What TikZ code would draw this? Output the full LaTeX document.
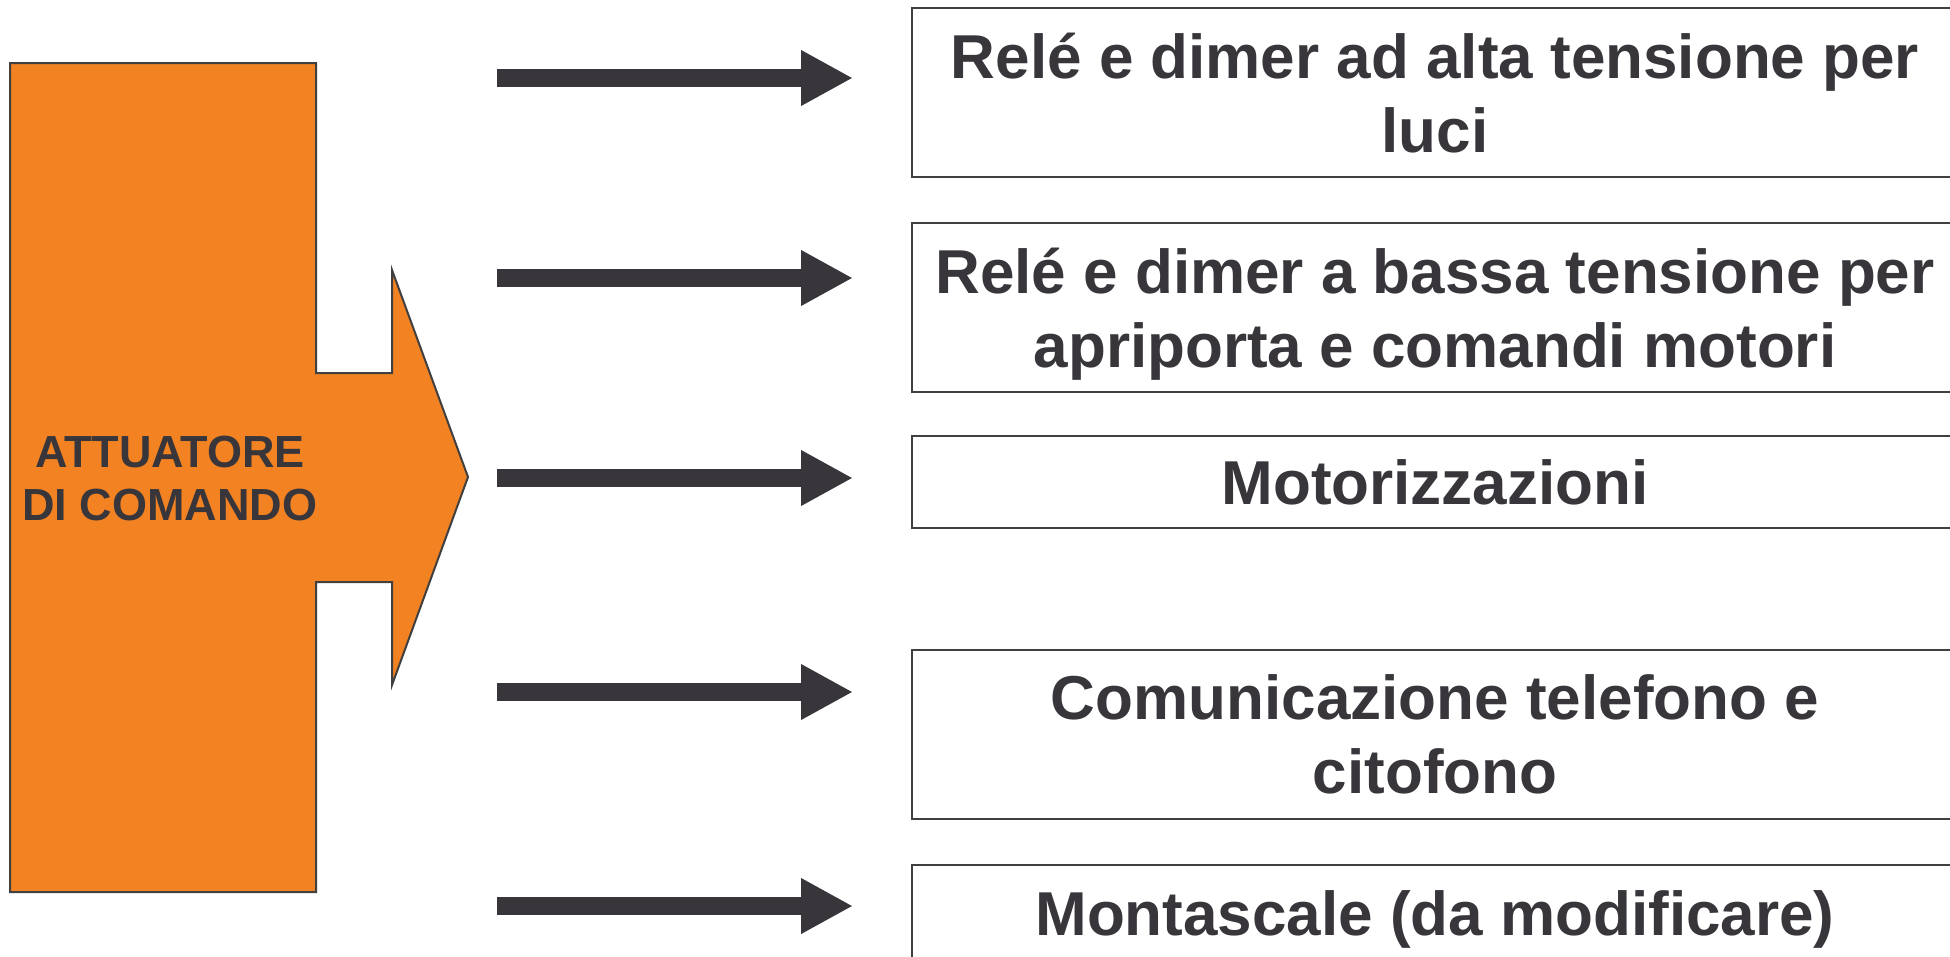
\documentclass[tikz,border=0pt]{standalone}
\usepackage{fontspec}
\setmainfont{Liberation Sans}
\usetikzlibrary{arrows.meta}
\definecolor{actorange}{HTML}{F28222}
\definecolor{inkgray}{HTML}{38363B}
\definecolor{edgegray}{HTML}{404040}
\tikzset{
  actshape/.style={fill=actorange, draw=edgegray, line width=2pt, line join=miter},
  acttext/.style={text=inkgray, font=\fontsize{45}{53}\selectfont\bfseries, align=center, inner sep=0pt},
  outbox/.style={draw=edgegray, line width=2pt, fill=white, anchor=north west,
    minimum width=1046pt, inner sep=0pt, text=inkgray, align=center,
    font=\fontsize{62}{74}\selectfont\bfseries},
  bigarrow/.style={draw=inkgray, line width=18pt, -{Triangle[width=52pt,length=52pt]}}
}
\begin{document}
\begin{tikzpicture}[x=1pt,y=-1pt]
\path[use as bounding box, clip] (0,0) rectangle (1950,956);
\fill[white] (0,0) rectangle (1950,956);
% actuator shape
\draw[actshape] (10,63) -- (316,63) -- (316,373) -- (392,373) -- (392,270) -- (468,477)
  -- (392,685) -- (392,582) -- (316,582) -- (316,892) -- (10,892) -- cycle;
\node[acttext] (act) at (170,478) {ATTUATORE\\DI COMANDO};
% output boxes
\node[outbox, minimum height=169pt, text depth=0pt] (b1) at (911,7)
  {Relé e dimer ad alta tensione per\\luci};
\node[outbox, minimum height=169pt, text depth=0pt] (b2) at (911,222)
  {Relé e dimer a bassa tensione per\\apriporta e comandi motori};
\node[outbox, minimum height=92pt, text depth=0pt] (b3) at (911,435)
  {Motorizzazioni};
\node[outbox, minimum height=169pt, text depth=0pt] (b4) at (911,649)
  {Comunicazione telefono e\\citofono};
\node[outbox, minimum height=96pt, text height=45pt, text depth=0pt] (b5) at (911,864)
  {Montascale (da modificare)};
% arrows
\coordinate (s1) at (497,78);  \coordinate (e1) at (853,78);
\coordinate (s2) at (497,278); \coordinate (e2) at (853,278);
\coordinate (s3) at (497,478); \coordinate (e3) at (853,478);
\coordinate (s4) at (497,692); \coordinate (e4) at (853,692);
\coordinate (s5) at (497,906); \coordinate (e5) at (853,906);
\foreach \i in {1,...,5} { \draw[bigarrow] (s\i) -- (e\i); }
\end{tikzpicture}
\end{document}
